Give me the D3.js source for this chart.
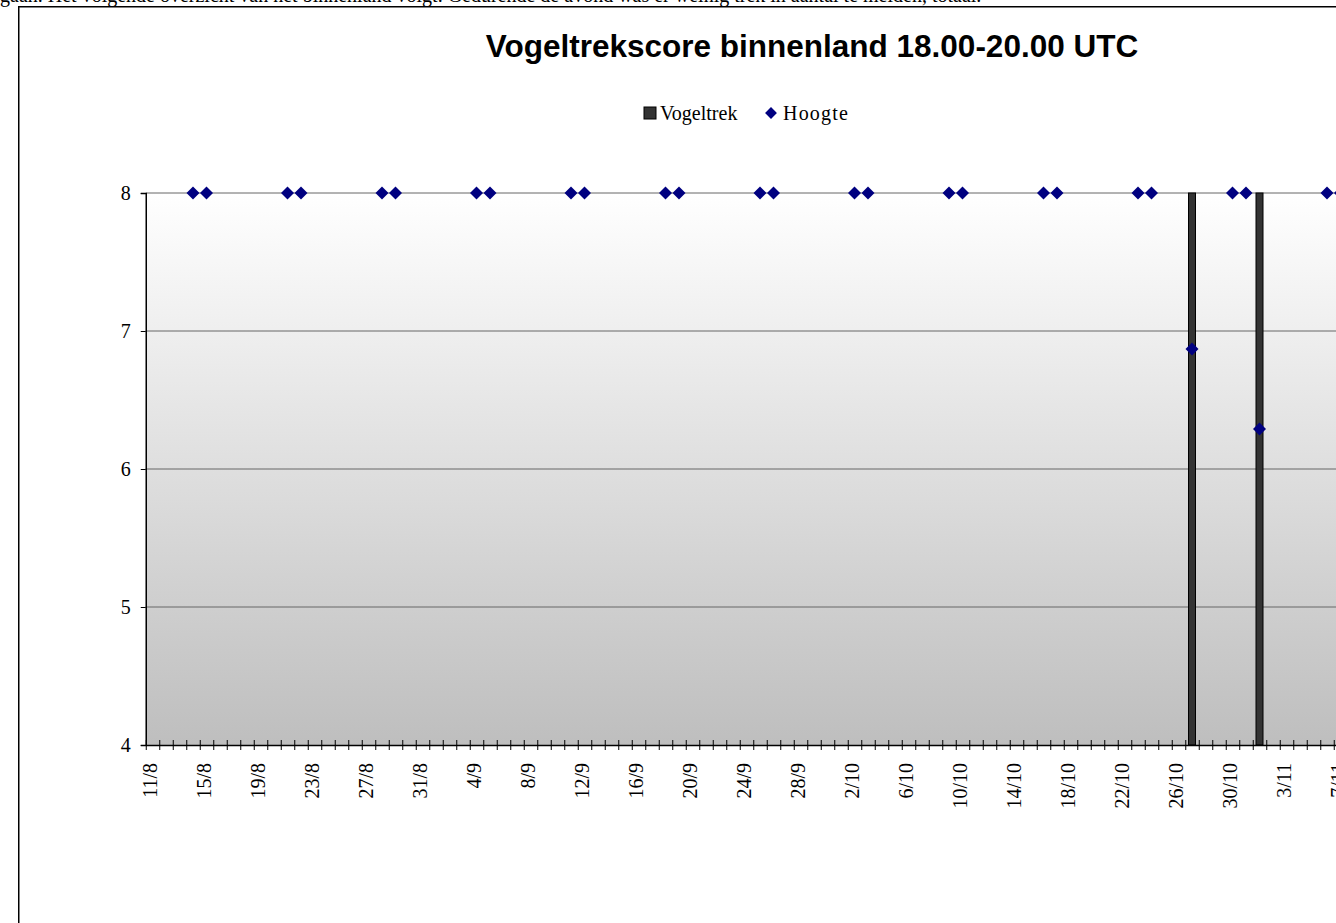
<!DOCTYPE html>
<html>
<head>
<meta charset="utf-8">
<script src="https://cdn.jsdelivr.net/npm/d3@7"></script>
<style>
  html, body { margin: 0; padding: 0; overflow: hidden; background: #fff; }
  svg { display: block; }
</style>
</head>
<body>
<svg id="chart"></svg>
<script>
// data (year 2010, dd/mm)
const introText = "gaan. Het volgende overzicht van het binnenland volgt. Gedurende de avond was er weinig trek in aantal te melden, totaal.";
const title = "Vogeltrekscore binnenland 18.00-20.00 UTC";
const seriesNames = ["Vogeltrek", "Hoogte"];

const tickLabels = ["11/8","15/8","19/8","23/8","27/8","31/8","4/9","8/9","12/9","16/9","20/9","24/9","28/9",
                    "2/10","6/10","10/10","14/10","18/10","22/10","26/10","30/10","3/11","7/11","11/11","15/11","19/11","23/11","27/11"];

const vogeltrekDates = ["27/10", "1/11"];
const vogeltrekValues = [8, 8];

const hoogteDates = ["14/8","15/8","21/8","22/8","28/8","29/8","4/9","5/9","11/9","12/9","18/9","19/9",
                     "25/9","26/9","2/10","3/10","9/10","10/10","16/10","17/10","23/10","24/10","27/10",
                     "30/10","31/10","1/11","6/11","7/11"];
const hoogteValues = [8,8,8,8,8,8,8,8,8,8,8,8,8,8,8,8,8,8,8,8,8,8,6.87,8,8,6.29,8,8];

const yTicks = [4, 5, 6, 7, 8];

const W = 1336, H = 923;
const serif = "'Liberation Serif', 'Times New Roman', serif";

function parseDay(s) {
    const p = s.split("/");
    return new Date(Date.UTC(2010, +p[1] - 1, +p[0]));
}
const fmt = d3.utcFormat("%-d/%-m");

const start = new Date(Date.UTC(2010, 7, 11));
const end = new Date(Date.UTC(2010, 11, 1));
const days = d3.utcDay.range(start, end);
const dayW = 13.5;

const x = d3.scaleUtc()
    .domain([start, end])
    .range([145.75, 145.75 + days.length * dayW]);

const y = d3.scaleLinear()
    .domain([4, 8])
    .range([745, 193]);

const mid = d => d3.utcHour.offset(parseDay(d), 12);

const svg = d3.select("#chart")
    .attr("width", W)
    .attr("height", H)
    .attr("font-family", serif);

// clipped text line above the chart
svg.append("text")
    .attr("x", 0)
    .attr("y", 1.5)
    .attr("font-size", 20)
    .text(introText);

// chart frame
svg.append("rect")
    .attr("x", 18.75)
    .attr("y", 6.75)
    .attr("width", 1600)
    .attr("height", 1000)
    .attr("fill", "#fff")
    .attr("stroke", "#000")
    .attr("stroke-width", 1.5);

// plot background gradient
const grad = svg.append("defs").append("linearGradient")
    .attr("id", "bg")
    .attr("x1", 0).attr("y1", 0).attr("x2", 0).attr("y2", 1);
grad.append("stop").attr("offset", "0%").attr("stop-color", "#ffffff");
grad.append("stop").attr("offset", "100%").attr("stop-color", "#bebebe");

svg.append("rect")
    .attr("x", x.range()[0])
    .attr("y", y(8))
    .attr("width", x.range()[1] - x.range()[0])
    .attr("height", y(4) - y(8))
    .attr("fill", "url(#bg)");

// gridlines
svg.append("g")
    .selectAll("line")
    .data(yTicks.filter(v => v > 4))
    .join("line")
    .attr("x1", x.range()[0])
    .attr("x2", x.range()[1])
    .attr("y1", d => y(d))
    .attr("y2", d => y(d))
    .attr("stroke", "#666")
    .attr("stroke-width", 1);

// title
svg.append("text")
    .attr("x", 812)
    .attr("y", 57)
    .attr("text-anchor", "middle")
    .attr("font-family", "'Liberation Sans', Arial, sans-serif")
    .attr("font-weight", "bold")
    .attr("font-size", 31.5)
    .text(title);

// legend
const lg = svg.append("g").attr("font-size", 20);
lg.append("rect")
    .attr("x", 644).attr("y", 107)
    .attr("width", 12).attr("height", 12)
    .attr("fill", "#333").attr("stroke", "#000");
lg.append("text").attr("x", 660).attr("y", 120).text(seriesNames[0]);
lg.append("path")
    .attr("d", d3.symbol(d3.symbolSquare, 70)())
    .attr("transform", "translate(771,113) rotate(45)")
    .attr("fill", "#000080");
lg.append("text").attr("x", 783).attr("y", 120)
    .attr("letter-spacing", 1.2)
    .text(seriesNames[1]);

// bars
svg.append("g")
    .selectAll("rect")
    .data(vogeltrekDates.map((d, i) => ({ date: d, value: vogeltrekValues[i] })))
    .join("rect")
    .attr("x", d => x(mid(d.date)) - 3.5)
    .attr("y", d => y(d.value))
    .attr("width", 7)
    .attr("height", d => y(4) - y(d.value))
    .attr("fill", "#333")
    .attr("stroke", "#000")
    .attr("stroke-width", 1);

// y axis
const yAxis = svg.append("g")
    .attr("transform", "translate(" + x.range()[0] + ",0)")
    .call(d3.axisLeft(y).tickValues(yTicks).tickFormat(d3.format("d")).tickSize(5).tickPadding(10));
yAxis.select(".domain").attr("stroke", "#000").attr("stroke-width", 1.5);
yAxis.selectAll("text").attr("font-family", serif).attr("font-size", 20).attr("fill", "#000");

// x axis
const xAxis = svg.append("g")
    .attr("transform", "translate(0," + y(4) + ")")
    .call(d3.axisBottom(x)
        .tickValues(days)
        .tickSizeOuter(0)
        .tickFormat(d => tickLabels.includes(fmt(d)) ? fmt(d) : ""));
xAxis.select(".domain").attr("stroke", "#000").attr("stroke-width", 1.5);
xAxis.selectAll(".tick line").attr("y1", -5).attr("y2", 5).attr("stroke", "#000");
xAxis.selectAll(".tick text")
    .attr("font-family", serif)
    .attr("font-size", 20)
    .attr("fill", "#000")
    .attr("text-anchor", "end")
    .attr("transform", "translate(3.5,18) rotate(-90)")
    .attr("x", 0)
    .attr("y", 0)
    .attr("dy", "0.35em");

// Hoogte markers
svg.append("g")
    .selectAll("path")
    .data(hoogteDates.map((d, i) => ({ date: d, value: hoogteValues[i] })))
    .join("path")
    .attr("d", d3.symbol(d3.symbolSquare, 85)())
    .attr("transform", d => "translate(" + x(mid(d.date)) + "," + y(d.value) + ") rotate(45)")
    .attr("fill", "#000080");
</script>
</body>
</html>
